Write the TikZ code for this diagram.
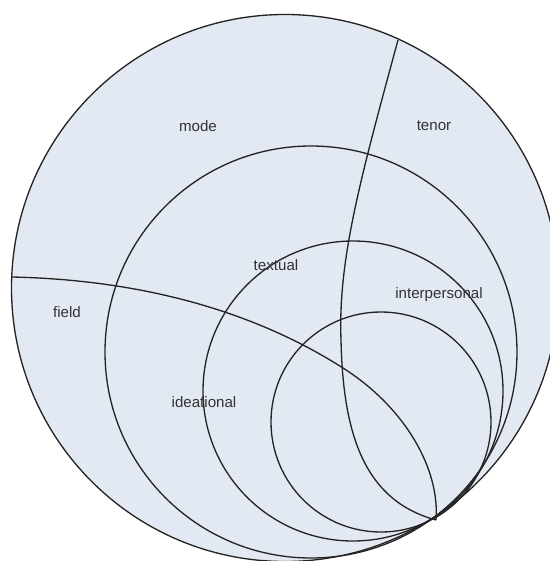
\documentclass[tikz,border=0pt]{standalone}
\usepackage{fontspec}
\setmainfont{Liberation Sans}
\usepackage{xcolor}
\usepackage{tikz}
\definecolor{discfill}{RGB}{227,233,243}
\definecolor{discline}{RGB}{35,35,35}
\definecolor{tagtext}{RGB}{50,50,50}
\tikzstyle{ring} = [draw=discline, line width=0.75pt]
\tikzstyle{divider} = [draw=discline, line width=0.75pt]
\tikzstyle{tag} = [font=\fontsize{8.6}{10}\selectfont, text=tagtext, inner sep=0pt]

\begin{document}
\begin{tikzpicture}[x=0.02cm, y=-0.02cm]
    \useasboundingbox (0,0) rectangle (549,561);
    \coordinate (tip)   at (436,520);
    \coordinate (fieldend) at (12,277);
    \coordinate (tenorend) at (398,40);
    \coordinate (fieldmid) at (343,368);
    \coordinate (tenormid) at (341,340);

    \fill[discfill] (285,288) circle [radius=273.5];
    \draw[ring] (285,288) circle [radius=273.5];
    \draw[ring] (311,352) circle [radius=206];
    \draw[ring] (353,391) circle [radius=150];
    \draw[ring] (381,422) circle [radius=110];

    % field / tenor boundaries
    \draw[divider] (fieldend) .. controls (150,280) and (260,315) .. (fieldmid)
        .. controls (406,408) and (440,470) .. (tip);
    \draw[divider] (tenorend) .. controls (360,180) and (338,260) .. (tenormid)
        .. controls (343,430) and (362,500) .. (tip);

    \node (mode)  [tag] at (198,126) {mode};
    \node (tenor) [tag] at (434,126) {tenor};
    \node (textual) [tag] at (276,265) {textual};
    \node (field) [tag] at (67,312) {field};
    \node (interpersonal) [tag] at (439,295) {interpersonal};
    \node (ideational) [tag] at (204,402) {ideational};
\end{tikzpicture}
\end{document}
